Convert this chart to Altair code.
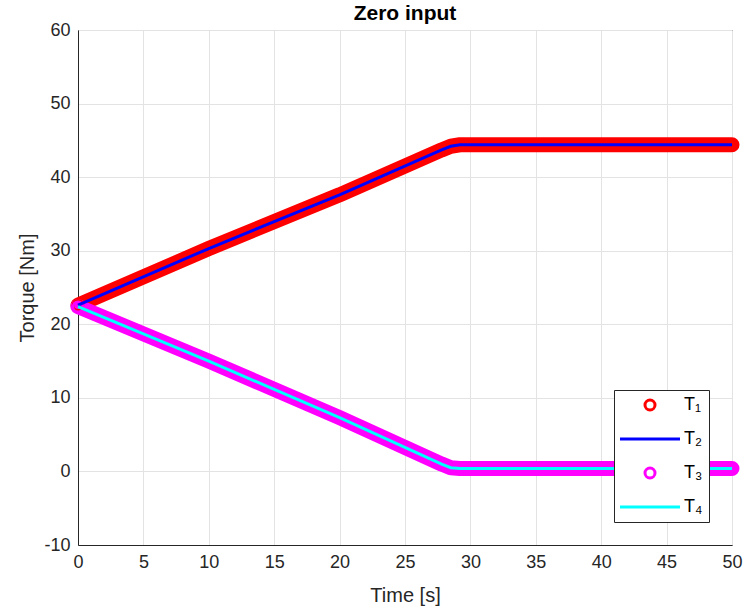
import altair as alt
import pandas as pd

# Knot points
t_upper = [0, 10, 20, 27.8, 28.5, 29.2, 50]
T1_vals = [22.6, 30.3, 37.6, 43.7, 44.2, 44.4, 44.4]
T2_vals = [22.6, 30.3, 37.6, 43.7, 44.2, 44.4, 44.4]
t_lower = [0, 10, 20, 27.8, 28.5, 29.2, 50]
T3_vals = [22.4, 15.0, 7.3, 1.0, 0.5, 0.4, 0.4]
T4_vals = [22.4, 15.0, 7.3, 1.0, 0.5, 0.4, 0.4]

series_names = ["T1", "T2", "T3", "T4"]
series_colors = ["#ff0000", "#0000ff", "#ff00ff", "#00ffff"]
series_shapes = ["circle", "M-6,0H6", "circle", "M-6,0H6"]

rows = []
for name, ts, vs in [("T1", t_upper, T1_vals), ("T2", t_upper, T2_vals),
                     ("T3", t_lower, T3_vals), ("T4", t_lower, T4_vals)]:
    for t, v in zip(ts, vs):
        rows.append({"time": t, "torque": v, "series": name})
df = pd.DataFrame(rows)

x_enc = alt.X("time:Q", scale=alt.Scale(domain=[0, 50], nice=False),
              axis=alt.Axis(title="Time [s]", values=list(range(0, 51, 5)), labelFlush=False))
y_enc = alt.Y("torque:Q", scale=alt.Scale(domain=[-10, 60], nice=False),
              axis=alt.Axis(title="Torque [Nm]", values=list(range(-10, 61, 10)), labelFlush=False,
                            labelExpr="toString(datum.value)"))

base = alt.Chart(df).encode(x=x_enc, y=y_enc, detail="series:N")

band1 = base.transform_filter(alt.datum.series == "T1").mark_line(
    strokeWidth=15, strokeCap="round", strokeJoin="round", color="#ff0000")
band3 = base.transform_filter(alt.datum.series == "T3").mark_line(
    strokeWidth=15, strokeCap="round", strokeJoin="round", color="#ff00ff")
line2 = base.transform_filter(alt.datum.series == "T2").mark_line(
    strokeWidth=3, color="#0000ff")
line4 = base.transform_filter(alt.datum.series == "T4").mark_line(
    strokeWidth=3, color="#00ffff")

leg = alt.Legend(title=None, orient="none", legendX=536, legendY=360,
                 fillColor="white", strokeColor="#262626", padding=6,
                 labelFont="Liberation Sans", labelFontSize=18, labelColor="black",
                 symbolSize=100, symbolStrokeWidth=3, symbolOffset=21,
                 rowPadding=14, labelOffset=25,
                 labelExpr="{'T1':'T\u2081','T2':'T\u2082','T3':'T\u2083','T4':'T\u2084'}[datum.label]")

points = alt.Chart(df).transform_filter(
    (alt.datum.series == "T1") | (alt.datum.series == "T3")
).mark_point(filled=False, strokeWidth=2.5, size=100, opacity=1).encode(
    x=x_enc, y=y_enc,
    color=alt.Color("series:N", scale=alt.Scale(domain=series_names, range=series_colors), legend=leg),
    shape=alt.Shape("series:N", scale=alt.Scale(domain=series_names, range=series_shapes), legend=leg),
)

chart = alt.layer(band1, band3, points, line2, line4).properties(
    width=654, height=515,
    title=alt.Title("Zero input", font="Liberation Sans", fontSize=21, fontWeight="bold",
                    color="black", offset=8, dy=11),
    autosize=alt.AutoSizeParams(type="none"),
    padding={"left": 78, "top": 30, "right": 11, "bottom": 69},
).configure_view(
    stroke="#262626", strokeWidth=1
).configure_axis(
    labelFont="Liberation Sans", titleFont="Liberation Sans",
    labelFontSize=18, titleFontSize=20, labelColor="#262626", titleColor="#262626",
    titleFontWeight="normal", gridColor="#e3e3e3", gridWidth=1,
    domainColor="#262626", ticks=False, labelPadding=8,
).configure_axisX(titlePadding=14).configure_axisY(titlePadding=6)

chart.save("out.html", embed_options={"renderer": "svg", "actions": False})
